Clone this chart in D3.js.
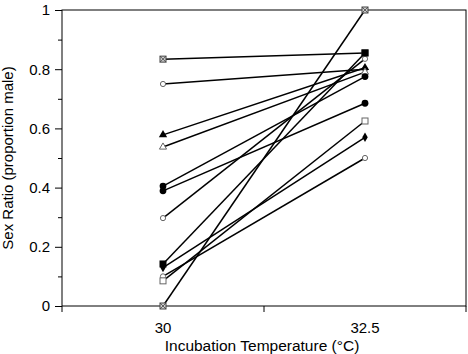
<!DOCTYPE html>
<html>
<head>
<meta charset="utf-8">
<script src="https://cdn.jsdelivr.net/npm/d3@7"></script>
<style>
  body { margin: 0; background: #fff; }
  svg text { font-family: "Liberation Sans", Arial, sans-serif; fill: #000; }
  .axis path, .axis line { stroke: #000; stroke-width: 1; }
</style>
</head>
<body>
<svg id="chart" width="468" height="354"></svg>
<script>
// ---- data ----
const temps = ["30", "32.5"];
const ratioAt30 = [0.834, 0.75, 0.578, 0.537, 0.405, 0.389, 0.297, 0.142, 0.13, 0.10, 0.085, 0.0];
const ratioAt325 = [0.855, 0.80, 0.805, 0.79, 0.775, 0.685, 0.835, 0.855, 0.57, 0.50, 0.625, 1.0];
const markers = ["squareX", "circleOpen", "triangle", "triangleOpen", "circle", "circle",
                 "circleOpen", "square", "diamond", "circleOpen", "squareOpen", "squareX"];
const yMajor = [0, 0.2, 0.4, 0.6, 0.8, 1];
const yMinor = [0.1, 0.3, 0.5, 0.7, 0.9];

const svg = d3.select("#chart");
const W = 468, H = 354;
const margin = { top: 10, right: 2, bottom: 48, left: 62 };
const innerW = W - margin.left - margin.right;
const innerH = H - margin.top - margin.bottom;

const g = svg.append("g").attr("transform", `translate(${margin.left},${margin.top})`);

const x = d3.scaleBand().domain(temps).range([0, innerW]);
const y = d3.scaleLinear().domain([0, 1]).range([innerH, 0]);
const cx = t => x(t) + x.bandwidth() / 2;

/* ---------- frame & axes ---------- */
g.append("rect").attr("width", innerW).attr("height", innerH)
  .attr("fill", "none").attr("stroke", "#000").attr("stroke-width", 1);

const yAxis = g.append("g").attr("class", "axis")
  .call(d3.axisLeft(y).tickValues(yMajor).tickSize(7).tickPadding(5).tickFormat(d3.format("")));
yAxis.select(".domain").remove();
yAxis.selectAll("text").style("font-size", "15px");

g.append("g").attr("class", "axis")
  .call(d3.axisLeft(y).tickValues(yMinor).tickSize(4).tickFormat(""))
  .select(".domain").remove();

// x labels centred in each band, ticks on the band edges
const xAxis = g.append("g").attr("class", "axis").attr("transform", `translate(0,${innerH})`)
  .call(d3.axisBottom(x).tickSize(0).tickPadding(16));
xAxis.select(".domain").remove();
xAxis.selectAll("text").style("font-size", "15px");

const edges = [0, innerW / 2, innerW];
g.selectAll(".xedge").data(edges).join("line")
  .attr("x1", d => d).attr("x2", d => d)
  .attr("y1", innerH).attr("y2", innerH + 6)
  .attr("stroke", "#000");

g.append("text")
  .attr("x", innerW / 2 - 2).attr("y", innerH + 45)
  .attr("text-anchor", "middle").style("font-size", "15.5px")
  .text("Incubation Temperature (°C)");

g.append("text")
  .attr("transform", "rotate(-90)")
  .attr("x", -innerH / 2).attr("y", -49)
  .attr("text-anchor", "middle").style("font-size", "15px")
  .text("Sex Ratio (proportion male)");

/* ---------- series lines ---------- */
const series = ratioAt30.map((v, i) => ({ a: v, b: ratioAt325[i], m: markers[i] }));

g.selectAll(".pair").data(series).join("line")
  .attr("x1", cx(temps[0])).attr("x2", cx(temps[1]))
  .attr("y1", d => y(d.a)).attr("y2", d => y(d.b))
  .attr("stroke", "#000").attr("stroke-width", 1.5);

/* ---------- markers ---------- */
function drawMarker(sel, type, px, py) {
  const grey = "#666";
  if (type === "circle") {
    sel.append("circle").attr("cx", px).attr("cy", py).attr("r", 3.4).attr("fill", "#000");
  } else if (type === "circleOpen") {
    sel.append("circle").attr("cx", px).attr("cy", py).attr("r", 2.6)
      .attr("fill", "#fff").attr("stroke", grey).attr("stroke-width", 1);
  } else if (type === "square") {
    sel.append("rect").attr("x", px - 3.5).attr("y", py - 3.5).attr("width", 7).attr("height", 7).attr("fill", "#000");
  } else if (type === "squareOpen") {
    sel.append("rect").attr("x", px - 3).attr("y", py - 3).attr("width", 6).attr("height", 6)
      .attr("fill", "#fff").attr("stroke", grey).attr("stroke-width", 1);
  } else if (type === "squareX") {
    sel.append("rect").attr("x", px - 3).attr("y", py - 3).attr("width", 6).attr("height", 6)
      .attr("fill", "#ccc").attr("stroke", "#444").attr("stroke-width", 1);
    sel.append("path").attr("d", `M${px - 3},${py - 3}L${px + 3},${py + 3}M${px + 3},${py - 3}L${px - 3},${py + 3}`)
      .attr("stroke", "#444").attr("stroke-width", 0.8);
  } else if (type === "triangle") {
    sel.append("path").attr("d", d3.symbol(d3.symbolTriangle, 30)()).attr("transform", `translate(${px},${py})`)
      .attr("fill", "#000");
  } else if (type === "triangleOpen") {
    sel.append("path").attr("d", d3.symbol(d3.symbolTriangle, 22)()).attr("transform", `translate(${px},${py})`)
      .attr("fill", "#fff").attr("stroke", grey).attr("stroke-width", 1);
  } else if (type === "diamond") {
    sel.append("path").attr("d", d3.symbol(d3.symbolDiamond, 26)()).attr("transform", `translate(${px},${py})`)
      .attr("fill", "#000");
  }
}

const markLayer = g.append("g");
series.forEach(d => {
  drawMarker(markLayer, d.m, cx(temps[0]), y(d.a));
  drawMarker(markLayer, d.m, cx(temps[1]), y(d.b));
});
</script>
</body>
</html>
